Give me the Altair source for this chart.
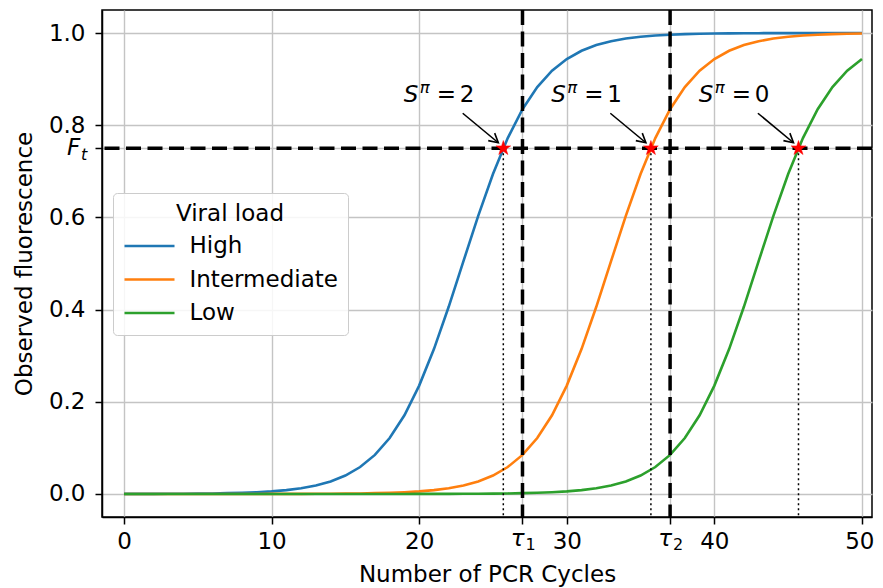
import altair as alt
import pandas as pd

FONT = "DejaVu Sans"
FS = 23

cycles = list(range(51))
high = [0.0001, 0.0002, 0.0002, 0.0003, 0.0005, 0.0008, 0.0011, 0.0017, 0.0025, 0.0037,
        0.0056, 0.0083, 0.0124, 0.0183, 0.0271, 0.0399, 0.0584, 0.0847, 0.1213, 0.1708,
        0.2351, 0.3143, 0.4061, 0.5050, 0.6035, 0.6943, 0.7721, 0.8348, 0.8829, 0.9184,
        0.9437, 0.9616, 0.9739, 0.9824, 0.9881, 0.9920, 0.9946, 0.9964, 0.9976, 0.9984,
        0.9989, 0.9993, 0.9995, 0.9997, 0.9998, 0.9999, 0.9999, 0.9999, 1.0000, 1.0000, 1.0000]
intermediate = [0.0000, 0.0000, 0.0000, 0.0000, 0.0000, 0.0000, 0.0000, 0.0000, 0.0000, 0.0000,
                0.0001, 0.0002, 0.0002, 0.0003, 0.0005, 0.0008, 0.0011, 0.0017, 0.0025, 0.0037,
                0.0056, 0.0083, 0.0124, 0.0183, 0.0271, 0.0399, 0.0584, 0.0847, 0.1213, 0.1708,
                0.2351, 0.3143, 0.4061, 0.5050, 0.6035, 0.6943, 0.7721, 0.8348, 0.8829, 0.9184,
                0.9437, 0.9616, 0.9739, 0.9824, 0.9881, 0.9920, 0.9946, 0.9964, 0.9976, 0.9984, 0.9989]
low = [0.0000, 0.0000, 0.0000, 0.0000, 0.0000, 0.0000, 0.0000, 0.0000, 0.0000, 0.0000,
       0.0000, 0.0000, 0.0000, 0.0000, 0.0000, 0.0000, 0.0000, 0.0000, 0.0000, 0.0000,
       0.0001, 0.0002, 0.0002, 0.0003, 0.0005, 0.0008, 0.0011, 0.0017, 0.0025, 0.0037,
       0.0056, 0.0083, 0.0124, 0.0183, 0.0271, 0.0399, 0.0584, 0.0847, 0.1213, 0.1708,
       0.2351, 0.3143, 0.4061, 0.5050, 0.6035, 0.6943, 0.7721, 0.8348, 0.8829, 0.9184, 0.9437]
loads = ["High", "Intermediate", "Low"]
load_colors = ["#1f77b4", "#ff7f0e", "#2ca02c"]

threshold = 0.75
taus = [27, 37]
tau_subs = ["1", "2"]
crossings = [25.7, 35.7, 45.7]
scores = ["2", "1", "0"]
ann_x = [18.95, 28.95, 38.95]
ann_y = [0.85, 0.85, 0.85]
arrow_x1 = [22.95, 32.95, 42.95]
arrow_y1 = [0.826, 0.826, 0.826]
arrow_x2 = [25.36, 35.36, 45.36]
arrow_y2 = [0.762, 0.762, 0.762]

x_ticks = [0, 10, 20, 27, 30, 37, 40, 50]
y_ticks = [0.0, 0.2, 0.4, 0.6, 0.75, 0.8, 1.0]
x_domain = [-1.49, 50.68]
y_domain = [-0.05, 1.05]

curves = pd.DataFrame({
    "cycle": cycles * 3,
    "fluor": high + intermediate + low,
    "load": [loads[0]] * 51 + [loads[1]] * 51 + [loads[2]] * 51,
})
tau_df = pd.DataFrame({"tau": taus, "sub": tau_subs, "bot": [y_domain[0]] * len(taus)})
thr_df = pd.DataFrame({"thr": [threshold]})
cross_df = pd.DataFrame({"cx": crossings, "ctop": [threshold] * 3, "cbot": [y_domain[0]] * 3})
ann_df = pd.DataFrame({"ax": ann_x, "ay": ann_y, "score": scores})
arrow_df = pd.DataFrame({"x1": arrow_x1, "y1": arrow_y1, "x2": arrow_x2, "y2": arrow_y2})
ft_df = pd.DataFrame({"fx": [x_domain[0]], "fy": [threshold]})

tau_test = " || ".join(f"datum.value == {t}" for t in taus)
x_axis = alt.Axis(
    values=x_ticks, title="Number of PCR Cycles",
    labelExpr=f"({tau_test}) ? '' : format(datum.value, 'd')",
    labelPadding=6, titlePadding=10, labelFlush=15, labelFlushOffset=12,
)
y_axis = alt.Axis(
    values=y_ticks, title="Observed fluorescence",
    labelExpr=f"datum.value == {threshold} ? '' : format(datum.value, '.1f')",
    labelPadding=10, titlePadding=12,
)
xs = alt.Scale(domain=x_domain, nice=False, zero=False)
ys = alt.Scale(domain=y_domain, nice=False, zero=False)

lines = alt.Chart(curves).mark_line(strokeWidth=2.6, clip=True).encode(
    x=alt.X("cycle:Q", scale=xs, axis=x_axis),
    y=alt.Y("fluor:Q", scale=ys, axis=y_axis),
    color=alt.Color("load:N", scale=alt.Scale(domain=loads, range=load_colors),
                    legend=alt.Legend(
                        title="Viral load", orient="none", legendX=11, legendY=183,
                        symbolType="M-2,0L2,0", symbolSize=625, symbolStrokeWidth=2.6,
                        symbolOffset=12.5,
                        labelFont=FONT, titleFont=FONT, labelFontSize=FS, titleFontSize=FS,
                        titleFontWeight="normal", labelColor="black", titleColor="black",
                        fillColor="rgba(255,255,255,0.85)", strokeColor="#cccccc",
                        cornerRadius=4, padding=10, rowPadding=7.5, labelOffset=26,
                        titleAnchor="middle", titlePadding=6)),
)

hline = alt.Chart(thr_df).mark_rule(color="black", strokeWidth=3.5, strokeDash=[15, 6.5]).encode(
    y=alt.Y("thr:Q", scale=ys, axis=y_axis))
vlines = alt.Chart(tau_df).mark_rule(color="black", strokeWidth=3.5, strokeDash=[15, 6.5]).encode(
    x=alt.X("tau:Q", scale=xs, axis=x_axis))
dotted = alt.Chart(cross_df).mark_rule(color="black", strokeWidth=1.5, strokeDash=[2, 3]).encode(
    x=alt.X("cx:Q", scale=xs, axis=x_axis),
    y=alt.Y("ctop:Q", scale=ys, axis=y_axis),
    y2="cbot:Q")
arrows = alt.Chart(arrow_df).mark_rule(color="black", strokeWidth=1.6).encode(
    x=alt.X("x1:Q", scale=xs, axis=x_axis), y=alt.Y("y1:Q", scale=ys, axis=y_axis),
    x2="x2:Q", y2="y2:Q")
heads = alt.Chart(arrow_df).mark_point(
    shape="M-1,-0.55L0,0L-1,0.55", filled=False, stroke="black", strokeWidth=1.6,
    size=324, angle=40.6, opacity=1).encode(
    x=alt.X("x2:Q", scale=xs, axis=x_axis), y=alt.Y("y2:Q", scale=ys, axis=y_axis))
STAR = ("M0,-1L0.2245,-0.309L0.9511,-0.309L0.3633,0.118L0.5878,0.809L0,0.382"
        "L-0.5878,0.809L-0.3633,0.118L-0.9511,-0.309L-0.2245,-0.309Z")
stars = alt.Chart(cross_df).mark_point(
    shape=STAR, filled=True, fill="#ff0000", stroke="#ff0000", strokeWidth=0.5,
    size=240, opacity=1).encode(
    x=alt.X("cx:Q", scale=xs, axis=x_axis), y=alt.Y("ctop:Q", scale=ys, axis=y_axis))


def ann_text(txt_field=None, text=None, dx=0, dy=0, size=FS, style="normal"):
    kw = dict(font=FONT, fontSize=size, fontStyle=style, align="left",
              baseline="alphabetic", dx=dx, dy=dy, color="black")
    if text is not None:
        kw["text"] = text
    m = alt.Chart(ann_df).mark_text(**kw)
    enc = dict(x=alt.X("ax:Q", scale=xs, axis=x_axis), y=alt.Y("ay:Q", scale=ys, axis=y_axis))
    if txt_field is not None:
        enc["text"] = alt.Text(f"{txt_field}:N")
    return m.encode(**enc)


s_txt = ann_text(text="S", style="italic")
pi_txt = ann_text(text="π", dx=16, dy=-9, size=16.5, style="italic")
eq_txt = ann_text(text="=", dx=33)
num_txt = ann_text(txt_field="score", dx=56)

tau_txt = alt.Chart(tau_df).mark_text(font=FONT, fontSize=FS, fontStyle="italic", align="right",
                                      baseline="alphabetic", dx=2, dy=29, color="black",
                                      text="τ").encode(
    x=alt.X("tau:Q", scale=xs, axis=x_axis), y=alt.Y("bot:Q", scale=ys, axis=y_axis))
tau_sub = alt.Chart(tau_df).mark_text(font=FONT, fontSize=16, align="left",
                                      baseline="alphabetic", dx=3, dy=33, color="black").encode(
    x=alt.X("tau:Q", scale=xs, axis=x_axis), y=alt.Y("bot:Q", scale=ys, axis=y_axis),
    text="sub:N")

f_txt = alt.Chart(ft_df).mark_text(font=FONT, fontSize=FS, fontStyle="italic", align="left",
                                   baseline="middle", dx=-35, dy=0, color="black", text="F").encode(
    x=alt.X("fx:Q", scale=xs, axis=x_axis), y=alt.Y("fy:Q", scale=ys, axis=y_axis))
t_txt = alt.Chart(ft_df).mark_text(font=FONT, fontSize=16, fontStyle="italic", align="left",
                                   baseline="middle", dx=-21, dy=7, color="black", text="t").encode(
    x=alt.X("fx:Q", scale=xs, axis=x_axis), y=alt.Y("fy:Q", scale=ys, axis=y_axis))

chart = alt.layer(
    lines, hline, vlines, dotted, arrows, heads, stars,
    s_txt, pi_txt, eq_txt, num_txt, tau_txt, tau_sub, f_txt, t_txt,
).properties(
    width=770, height=507,
    autosize=alt.AutoSizeParams(type="none"),
    padding={"left": 94, "top": 2, "right": 3, "bottom": 72},
    background="white",
).configure_axis(
    labelFont=FONT, titleFont=FONT, labelFontSize=FS, titleFontSize=FS,
    titleFontWeight="normal", labelColor="black", titleColor="black",
    domainColor="black", domainWidth=1.5, tickColor="black", tickWidth=1.5, tickSize=7,
    grid=True, gridColor="#c4c4c4", gridWidth=1.4,
).configure_view(stroke="black", strokeWidth=1.5)

chart.save("out.html", embed_options={"renderer": "svg", "actions": False})
